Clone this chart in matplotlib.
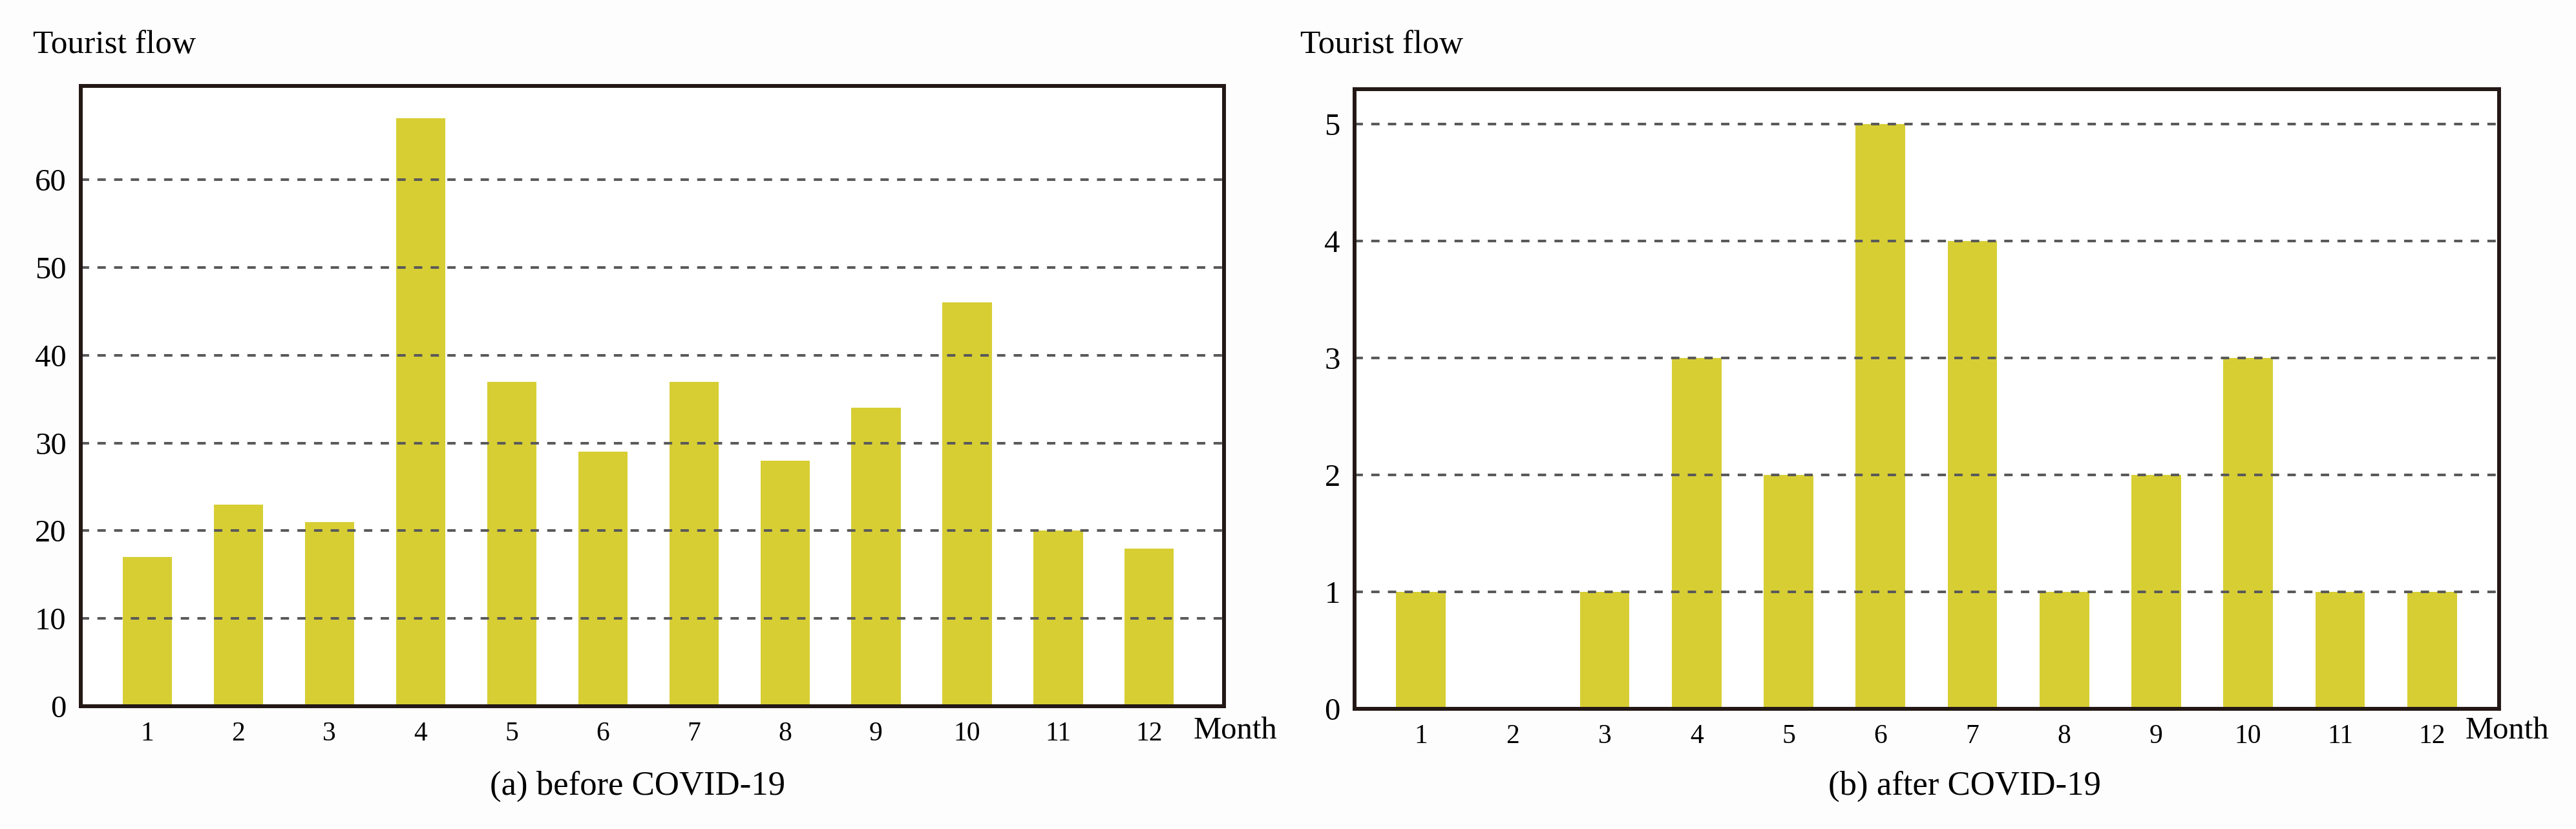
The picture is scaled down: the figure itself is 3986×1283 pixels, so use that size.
import numpy as np
import matplotlib.pyplot as plt

# Monthly tourist flow
months = np.arange(1, 13)
month_labels = [str(m) for m in months]
flow_before = [17, 23, 21, 67, 37, 29, 37, 28, 34, 46, 20, 18]
flow_after = [1, 0, 1, 3, 2, 5, 4, 1, 2, 3, 1, 1]
yticks_before = [0, 10, 20, 30, 40, 50, 60]
yticks_after = [0, 1, 2, 3, 4, 5]

plt.rcParams["font.family"] = ["Liberation Serif", "DejaVu Serif"]

W, H = 3986, 1283
fig = plt.figure(figsize=(W / 100, H / 100), dpi=100)
fig.patch.set_facecolor("#fdfdfd")

bar_color = "#d7ce34"
spine_color = "#231815"
grid_color = "#5a5a5a"


def px_axes(left, top, right, bottom):
    return fig.add_axes([left / W, 1 - bottom / H, (right - left) / W, (bottom - top) / H])


def draw_panel(ax, values, yticks, ylim, xlim):
    ax.set_facecolor("white")
    ax.bar(months, values, width=0.54, color=bar_color, zorder=2)
    for t in yticks[1:]:
        ax.axhline(t, color=grid_color, lw=2.9, ls=(0, (3.2, 3.2)), zorder=3)
    ax.set_xlim(*xlim)
    ax.set_ylim(*ylim)
    ax.set_xticks(months)
    ax.set_xticklabels(month_labels, fontsize=30)
    ax.set_yticks(yticks)
    ax.tick_params(axis="y", labelsize=35, length=0, pad=16)
    ax.tick_params(axis="x", length=0, pad=17)
    for s in ax.spines.values():
        s.set_color(spine_color)
        s.set_linewidth(4.3)
        s.set_zorder(4)


ax1 = px_axes(125, 133, 1894, 1093)
draw_panel(ax1, flow_before, yticks_before, (0, 70.7), (0.27, 12.82))

ax2 = px_axes(2096, 138, 3867, 1097)
draw_panel(ax2, flow_after, yticks_after, (0, 5.3), (0.28, 12.73))

# Axis titles and captions
fig.text(51 / W, 1 - 70 / H, "Tourist flow", fontsize=37, ha="left", va="center")
fig.text(2012 / W, 1 - 70 / H, "Tourist flow", fontsize=37, ha="left", va="center")
fig.text(1847 / W, 1 - 1131 / H, "Month", fontsize=35, ha="left", va="center")
fig.text(3815 / W, 1 - 1131 / H, "Month", fontsize=35, ha="left", va="center")
fig.text(987 / W, 1 - 1217 / H, "(a) before COVID-19", fontsize=38, ha="center", va="center")
fig.text(3040 / W, 1 - 1217 / H, "(b) after COVID-19", fontsize=38, ha="center", va="center")

fig.savefig("out.png", dpi=100, facecolor=fig.get_facecolor())
